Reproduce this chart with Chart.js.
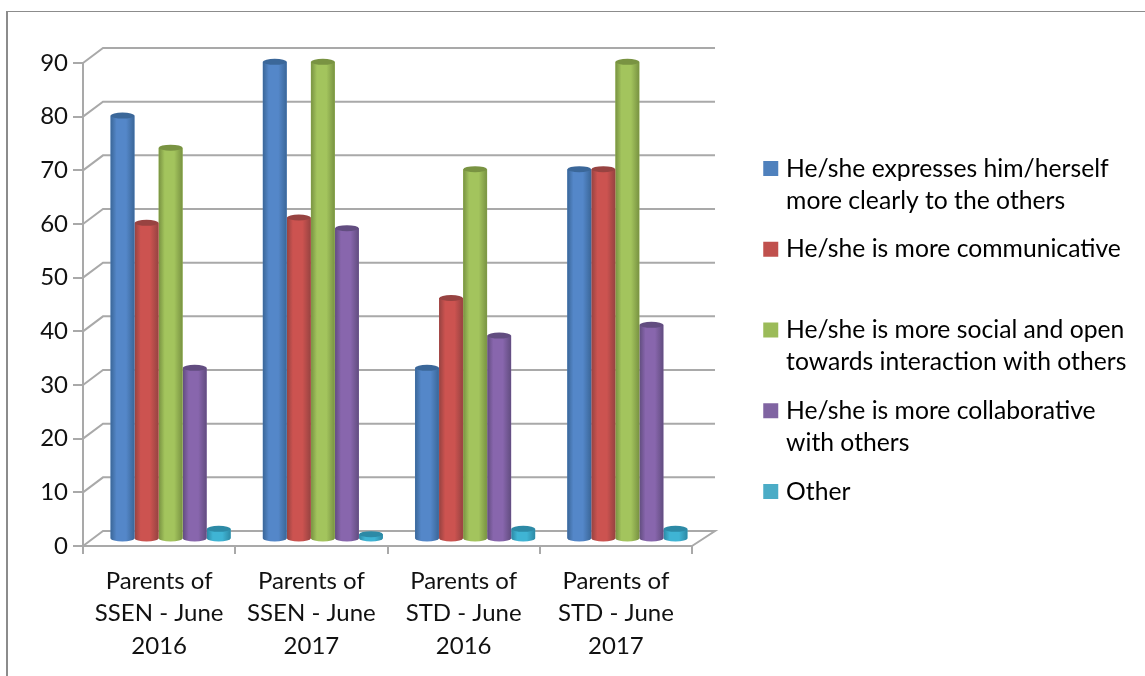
<!DOCTYPE html>
<html>
<head>
<meta charset="utf-8">
<script src="https://cdn.jsdelivr.net/npm/chart.js@4"></script>
<style>
  html, body { margin: 0; padding: 0; background: #fff; }
  #wrap { position: relative; width: 1145px; height: 676px; overflow: hidden; }
  #frame { position: absolute; left: 6px; top: 11px; right: 0; bottom: 0; border-left: 2px solid #8c8c8c; border-top: 1px solid #8c8c8c; }
  canvas { position: absolute; left: 0; top: 0; filter: blur(0.55px); }
</style>
</head>
<body>
<div id="wrap">
  <div id="frame"></div>
  <canvas id="bars" width="1145" height="676"></canvas>
</div>
<script>
const categories = [
  ["Parents of", "SSEN - June", "2016"],
  ["Parents of", "SSEN - June", "2017"],
  ["Parents of", "STD - June", "2016"],
  ["Parents of", "STD - June", "2017"]
];
const clearly = [79, 89, 32, 69];
const communicative = [59, 60, 45, 69];
const social = [73, 89, 69, 89];
const collaborative = [32, 58, 38, 40];
const other = [2, 1, 2, 2];
const yTicks = [0, 10, 20, 30, 40, 50, 60, 70, 80, 90];

// the empty second line keeps every legend row the same height
const seriesNames = [
  ["He/she expresses him/herself", "more clearly to the others"],
  ["He/she is more communicative", ""],
  ["He/she is more social and open", "towards interaction with others"],
  ["He/she is more collaborative", "with others"],
  ["Other", ""]
];
const seriesValues = [clearly, communicative, social, collaborative, other];
const baseColors = ["#4f81bd", "#c0504d", "#9bbb59", "#8064a2", "#4bacc6"];
const lightColors = ["#5487c9", "#cc5350", "#a3c45d", "#8866ad", "#3fb4d4"];
const darkColors = ["#3b6799", "#974341", "#799342", "#624d80", "#2d8aa6"];

const fontFamily = "Lato, 'Open Sans', sans-serif";
const textColor = "#111";
const axisColor = "#a9a9a9";

// how far the bars stand in front of the back wall
const barDX = 11.5, barDY = -6.5, capRY = 3;
const wallLeft = 20, wallRight = 23, wallDY = -15;

const wall3d = {
  id: "wall3d",
  afterLayout(chart) {
    // legend sits outside the plot, in the free part on the right
    const lg = chart.legend;
    lg.left = 751;
    lg.right = 1145;
    lg.top = 139.5;
    lg.bottom = 670;
  },
  beforeDatasetsDraw(chart) {
    const c = chart.ctx, a = chart.chartArea, y = chart.scales.y;
    c.save();
    c.strokeStyle = axisColor;
    c.lineWidth = 2;
    yTicks.forEach(function (v) {
      const py = y.getPixelForValue(v);
      c.beginPath();
      c.moveTo(a.left, py);
      c.lineTo(a.left + wallLeft, py + wallDY);
      c.lineTo(a.right + wallRight, py + wallDY);
      if (v === 0) c.lineTo(a.right, py);
      c.stroke();
    });
    c.restore();
  },
  beforeDatasetDraw(chart) {
    chart.ctx.save();
    chart.ctx.translate(barDX, barDY);
  },
  afterDatasetDraw(chart, args) {
    const c = chart.ctx, i = args.index;
    args.meta.data.forEach(function (bar) {
      const w = bar.width - 0.5, x0 = bar.x - w / 2, x1 = bar.x + w / 2;
      const g = c.createLinearGradient(x0, 0, x1, 0);
      g.addColorStop(0, darkColors[i]);
      g.addColorStop(0.25, lightColors[i]);
      g.addColorStop(0.65, lightColors[i]);
      g.addColorStop(1, darkColors[i]);
      c.fillStyle = g;
      c.beginPath();
      c.moveTo(x0, bar.y);
      c.lineTo(x0, bar.base);
      c.ellipse(bar.x, bar.base, w / 2, capRY, 0, Math.PI, 0, true);
      c.lineTo(x1, bar.y);
      c.closePath();
      c.fill();
      c.fillStyle = darkColors[i];
      c.beginPath();
      c.ellipse(bar.x, bar.y, w / 2, capRY, 0, 0, Math.PI * 2);
      c.fill();
    });
    c.restore();
  }
};

new Chart(document.getElementById("bars"), {
  type: "bar",
  data: {
    labels: categories,
    datasets: seriesValues.map(function (vals, i) {
      return {
        label: seriesNames[i],
        data: vals,
        backgroundColor: baseColors[i],
        clip: false
      };
    })
  },
  options: {
    responsive: false,
    animation: false,
    layout: { padding: { left: 0, top: 63, right: 453, bottom: 0 } },
    datasets: { bar: { categoryPercentage: 0.79, barPercentage: 1 } },
    plugins: {
      tooltip: { enabled: false },
      legend: {
        position: "chartArea",
        align: "start",
        labels: {
          color: textColor,
          boxWidth: 6,
          boxHeight: 6,
          padding: 16.75,
          font: { family: fontFamily, size: 24.7, lineHeight: "32px" },
          generateLabels(chart) {
            return chart.data.datasets.map(function (ds, i) {
              return {
                text: ds.label,
                fillStyle: baseColors[i],
                strokeStyle: baseColors[i],
                lineWidth: 9,
                datasetIndex: i
              };
            });
          }
        }
      }
    },
    scales: {
      x: {
        afterFit(s) { s.height = 130; },
        grid: { drawOnChartArea: false, color: axisColor, lineWidth: 2, tickLength: 8 },
        border: { color: axisColor, width: 2 },
        ticks: {
          color: textColor,
          padding: 11,
          maxRotation: 0,
          font: { family: fontFamily, size: 24, lineHeight: "32.5px" }
        }
      },
      y: {
        min: 0,
        max: 90,
        afterFit(s) { s.width = 83; },
        grid: { drawOnChartArea: false, color: axisColor, lineWidth: 2, tickLength: 10 },
        border: { color: axisColor, width: 2 },
        ticks: {
          stepSize: 10,
          color: textColor,
          padding: 5,
          font: { family: fontFamily, size: 24 }
        }
      }
    }
  },
  plugins: [wall3d]
});
</script>
</body>
</html>
